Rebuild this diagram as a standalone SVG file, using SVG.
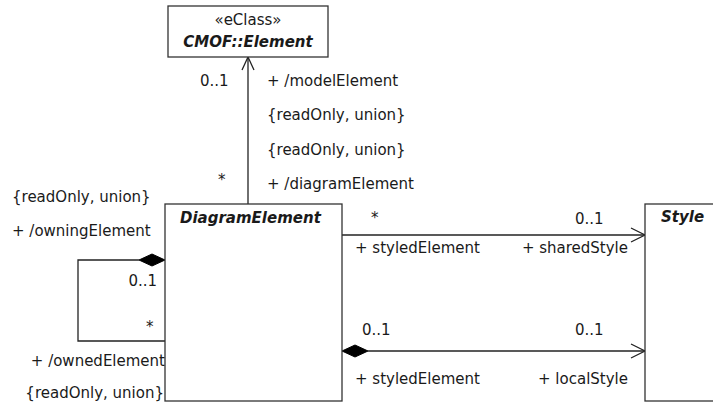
<svg xmlns="http://www.w3.org/2000/svg" width="713" height="407" viewBox="0 0 713 407">
<style>
text{font-family:"DejaVu Sans","Liberation Sans",sans-serif;font-size:15px;fill:#1a1a1a}
.t{font-weight:bold;font-style:italic}
.box{fill:#fff;stroke:#333;stroke-width:1.3}
.ln{fill:none;stroke:#222;stroke-width:1.3}
.dia{fill:#000;stroke:#000;stroke-width:1}
.e{text-anchor:end}
.m{text-anchor:middle}
</style>
<rect width="713" height="407" fill="#fff"/>
<g id="connectors">
<g id="c-model">
<line class="ln" x1="248" y1="204" x2="248" y2="57"/>
<polyline class="ln" points="242,70 248,57 254,70"/>
<text x="200" y="86">0..1</text>
<text x="218" y="185">*</text>
<text x="267" y="86">+ /modelElement</text>
<text x="267" y="120">{readOnly, union}</text>
<text x="267" y="155">{readOnly, union}</text>
<text x="267" y="189">+ /diagramElement</text>
</g>
<g id="c-owner">
<polyline class="ln" points="139,260 78,260 78,341 165,341"/>
<polygon class="dia" points="165,260 152,254 139,260 152,266"/>
<text x="12" y="202">{readOnly, union}</text>
<text x="12" y="236">+ /owningElement</text>
<text class="e" x="157" y="286">0..1</text>
<text x="146" y="332">*</text>
<text class="e" x="165" y="366">+ /ownedElement</text>
<text class="e" x="164" y="398">{readOnly, union}</text>
</g>
<g id="c-shared">
<line class="ln" x1="342" y1="235" x2="645" y2="235"/>
<polyline class="ln" points="631,228 645,235 631,242"/>
<text x="371" y="223">*</text>
<text x="575" y="224">0..1</text>
<text x="355" y="253">+ styledElement</text>
<text class="e" x="628" y="253">+ sharedStyle</text>
</g>
<g id="c-local">
<line class="ln" x1="368" y1="351" x2="645" y2="351"/>
<polygon class="dia" points="342,351 355,345 368,351 355,357"/>
<polyline class="ln" points="631,344 645,351 631,358"/>
<text x="362" y="335">0..1</text>
<text x="575" y="335">0..1</text>
<text x="355" y="384">+ styledElement</text>
<text class="e" x="628" y="384">+ localStyle</text>
</g>
</g>
<g id="cmof-element">
<rect class="box" x="168" y="6" width="160" height="51"/>
<text class="m" x="248" y="25">«eClass»</text>
<text class="m t" x="248" y="47">CMOF::Element</text>
</g>
<g id="diagram-element">
<rect class="box" x="165" y="204" width="177" height="197"/>
<text class="t" x="180" y="223">DiagramElement</text>
</g>
<g id="style">
<rect class="box" x="645" y="204" width="80" height="197"/>
<text class="t" x="661" y="222">Style</text>
</g>
</svg>
